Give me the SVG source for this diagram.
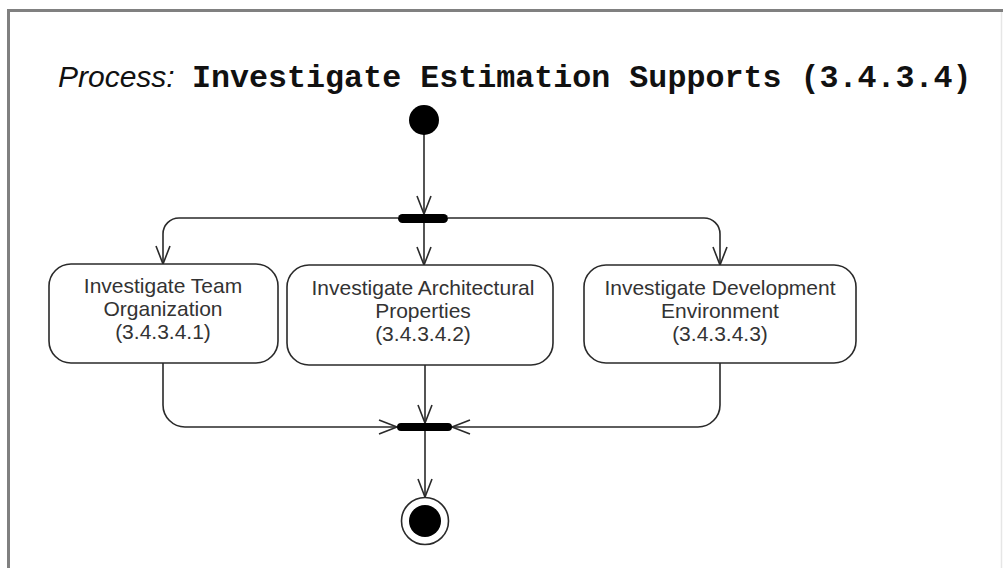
<svg xmlns="http://www.w3.org/2000/svg" width="1003" height="568" viewBox="0 0 1003 568">
  <defs>
    <style>
      .frame { fill: none; stroke: #808080; stroke-width: 3; }
      .edge { fill: none; stroke: #2a2a2a; stroke-width: 1.6; }
      .action { fill: #ffffff; stroke: #2a2a2a; stroke-width: 1.6; }
      .bar { fill: #000000; }
      .label { font-family: "Liberation Sans", Arial, sans-serif; font-size: 21px; fill: #333333; text-anchor: middle; }
      .kw { font-family: "Liberation Sans", Arial, sans-serif; font-style: italic; font-size: 30px; fill: #111111; }
      .name { font-family: "Liberation Mono", "Courier New", monospace; font-weight: bold; font-size: 31.7px; fill: #111111; }
    </style>
    <marker id="open" markerUnits="userSpaceOnUse" markerWidth="24" markerHeight="20" viewBox="-20 -10 24 20" refX="0" refY="0" orient="auto">
      <path d="M -18 -7 L 0 0 L -18 7" fill="none" stroke="#2a2a2a" stroke-width="1.6"/>
    </marker>
  </defs>

  <rect width="1003" height="568" fill="#ffffff"/>
  <!-- window frame -->
  <path class="frame" d="M 8.5 568 V 10.5 H 1003"/>
  <line x1="1001.5" y1="12" x2="1001.5" y2="568" stroke="#e6e6e6" stroke-width="1.5"/>

  <!-- heading -->
  <g id="title">
    <text x="58" y="87"><tspan class="kw">Process:</tspan></text>
    <text x="192" y="87" class="name">Investigate Estimation Supports (3.4.3.4)</text>
  </g>

  <!-- connectors -->
  <g id="connectors">
    <path class="edge" d="M 424 134 V 214" marker-end="url(#open)"/>
    <path class="edge" d="M 424 223 V 265" marker-end="url(#open)"/>
    <path class="edge" d="M 398 218 H 179 A 16 16 0 0 0 163 234 V 264" marker-end="url(#open)"/>
    <path class="edge" d="M 448 218 H 704 A 16 16 0 0 1 720 234 V 265" marker-end="url(#open)"/>
    <path class="edge" d="M 163 363 V 405 A 22 22 0 0 0 185 427 H 397" marker-end="url(#open)"/>
    <path class="edge" d="M 720 363 V 405 A 22 22 0 0 1 698 427 H 452" marker-end="url(#open)"/>
    <path class="edge" d="M 425 365 V 423" marker-end="url(#open)"/>
    <path class="edge" d="M 425 431 V 497" marker-end="url(#open)"/>
  </g>

  <!-- initial node -->
  <g id="start">
    <circle cx="424" cy="120" r="15" fill="#000000"/>
  </g>

  <!-- fork -->
  <g id="fork">
    <rect class="bar" x="398" y="214" width="50" height="9" rx="4.5"/>
  </g>

  <g id="team">
    <rect class="action" x="49" y="264" width="229" height="99" rx="22"/>
    <text class="label" x="163" y="293">Investigate Team</text>
    <text class="label" x="163" y="316">Organization</text>
    <text class="label" x="163" y="339">(3.4.3.4.1)</text>
  </g>

  <g id="architecture">
    <rect class="action" x="287" y="265" width="266" height="100" rx="22"/>
    <text class="label" x="423" y="295">Investigate Architectural</text>
    <text class="label" x="423" y="318">Properties</text>
    <text class="label" x="423" y="341">(3.4.3.4.2)</text>
  </g>

  <g id="environment">
    <rect class="action" x="584" y="265" width="272" height="98" rx="22"/>
    <text class="label" x="720" y="295">Investigate Development</text>
    <text class="label" x="720" y="318">Environment</text>
    <text class="label" x="720" y="341">(3.4.3.4.3)</text>
  </g>

  <!-- join -->
  <g id="join">
    <rect class="bar" x="397" y="423" width="55" height="8" rx="4"/>
  </g>

  <!-- final node -->
  <g id="end">
    <circle cx="425" cy="521" r="23.5" fill="#ffffff" stroke="#2a2a2a" stroke-width="1.6"/>
    <circle cx="425" cy="521" r="16" fill="#000000"/>
  </g>
</svg>
